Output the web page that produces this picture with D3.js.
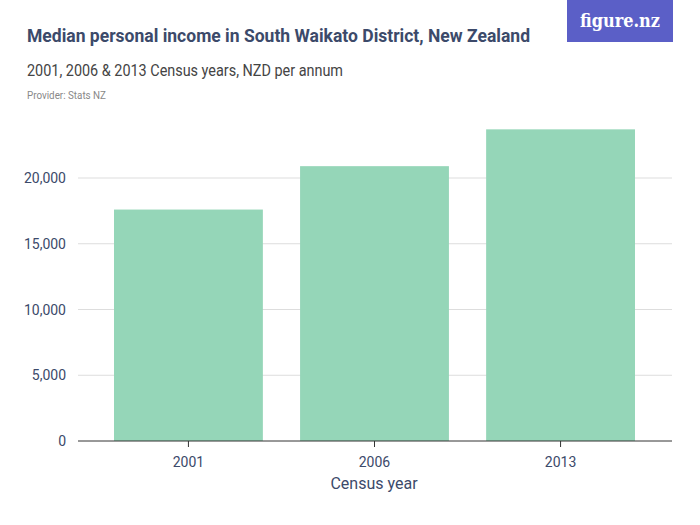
<!DOCTYPE html>
<html><head><meta charset="utf-8">
<script src="https://cdn.jsdelivr.net/npm/d3@7"></script>
<style>body{margin:0;background:#fff;}</style>
</head><body>
<script>
const years = ["2001", "2006", "2013"];
const income = [17600, 20900, 23700];
const yTicks = [0, 5000, 10000, 15000, 20000];

const W = 700, H = 525;
const svg = d3.select("body").append("svg").attr("width", W).attr("height", H);
const font = "'Roboto',sans-serif";

svg.append("text").attr("x", 27).attr("y", 42).attr("fill", "#3c4a6a")
  .attr("textLength", 503).attr("lengthAdjust", "spacingAndGlyphs")
  .style("font", `bold 19px ${font}`).text("Median personal income in South Waikato District, New Zealand");
svg.append("text").attr("x", 27).attr("y", 76).attr("fill", "#444")
  .attr("textLength", 316).attr("lengthAdjust", "spacingAndGlyphs")
  .style("font", `16px ${font}`).text("2001, 2006 & 2013 Census years, NZD per annum");
svg.append("text").attr("x", 27).attr("y", 99).attr("fill", "#888")
  .attr("textLength", 79).attr("lengthAdjust", "spacingAndGlyphs")
  .style("font", `10px ${font}`).text("Provider: Stats NZ");

// logo
svg.append("rect").attr("x", 567).attr("y", 0).attr("width", 106).attr("height", 42).attr("fill", "#5b5fc7");
svg.append("text").attr("x", 620).attr("y", 27).attr("text-anchor", "middle").attr("fill", "#fff")
  .attr("textLength", 80).attr("lengthAdjust", "spacingAndGlyphs")
  .style("font", `bold 18px 'DejaVu Serif',serif`).text("figure.nz");

const x = d3.scaleBand().domain(years).range([95.4, 653.6]).paddingInner(0.2).paddingOuter(0.1);
const y = d3.scaleLinear().domain([0, 20000]).range([441, 178]);

svg.append("g").selectAll("line").data(yTicks.slice(1)).join("line")
  .attr("x1", 78).attr("x2", 672).attr("y1", d => y(d)).attr("y2", d => y(d))
  .attr("stroke", "#ddd");

svg.append("g").selectAll("rect").data(income).join("rect")
  .attr("x", (d, i) => x(years[i])).attr("width", x.bandwidth())
  .attr("y", d => y(d)).attr("height", d => y(0) - y(d)).attr("fill", "#95d6b8");

svg.append("line").attr("x1", 78).attr("x2", 672).attr("y1", y(0)).attr("y2", y(0)).attr("stroke", "#333");

svg.append("g").selectAll("text").data(yTicks).join("text")
  .attr("x", 66).attr("y", d => y(d) + 5).attr("text-anchor", "end").attr("fill", "#3c4a6a")
  .style("font", `14px ${font}`).text(d => d3.format(",")(d));

svg.append("g").selectAll("text").data(years).join("text")
  .attr("x", d => x(d) + x.bandwidth() / 2).attr("y", 467).attr("text-anchor", "middle").attr("fill", "#3c4a6a")
  .style("font", `14px ${font}`).text(d => d);
svg.append("g").selectAll("line").data(years).join("line")
  .attr("x1", d => x(d) + x.bandwidth() / 2).attr("x2", d => x(d) + x.bandwidth() / 2)
  .attr("y1", 441).attr("y2", 447).attr("stroke", "#333");

svg.append("text").attr("x", 374).attr("y", 489).attr("text-anchor", "middle").attr("fill", "#3c4a6a")
  .style("font", `16px ${font}`).text("Census year");
</script>
</body></html>
